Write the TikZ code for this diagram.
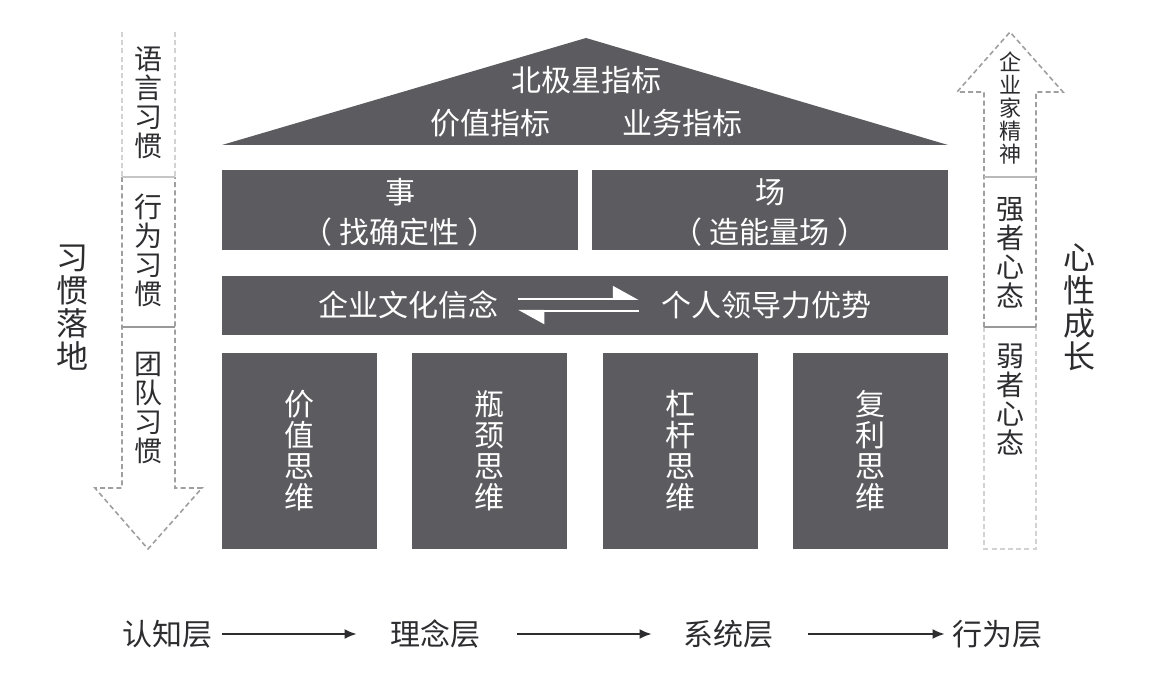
\documentclass[tikz,border=0pt]{standalone}
\usepackage{fontspec}
\setmainfont{Noto Sans CJK SC}
\usetikzlibrary{arrows.meta}
\definecolor{boxgray}{RGB}{92,91,96}
\definecolor{inkgray}{RGB}{45,45,48}
\begin{document}
\begin{tikzpicture}[x=0.5pt, y=-0.5pt,
    wtxt/.style={text=white, inner sep=0pt, align=center, font=\fontsize{15}{15.5}\selectfont},
    btxt/.style={text=inkgray, inner sep=0pt, align=center, font=\fontsize{14}{14.5}\selectfont},
    flow/.style={draw=inkgray, line width=1pt, -{Latex[length=6pt,width=5pt]}},
    dashline/.style={line width=0.8pt, dash pattern=on 2.5pt off 1.6pt}]
    \useasboundingbox (0,0) rectangle (1156,678);

    % house
    \fill[boxgray] (222,145) -- (586,38) -- (948,145) -- cycle;
    \fill[boxgray] (222,170) rectangle (578,250);
    \fill[boxgray] (592,170) rectangle (948,250);
    \fill[boxgray] (222,276) rectangle (948,335);
    \foreach \x in {222,412,603,793} \fill[boxgray] (\x,353) rectangle ++(155,196);

    \node[wtxt] (north) at (586,80) {北极星指标};
    \node[wtxt] (value) at (490,123) {价值指标};
    \node[wtxt] (biz) at (682,123) {业务指标};

    \node[wtxt] (shi) at (400,192) {事};
    \node[wtxt] (shisub) at (400,232) {（\hspace{4pt}找确定性\hspace{4pt}）};
    \node[wtxt] (chang) at (770,192) {场};
    \node[wtxt] (changsub) at (770,232) {（\hspace{4pt}造能量场\hspace{4pt}）};

    \node[wtxt] (culture) at (408,305) {企业文化信念};
    \node[wtxt] (leader) at (766,305) {个人领导力优势};
    \draw[white, line width=1pt, -{Triangle[left, length=12pt, width=13pt]}, shorten <=10pt, shorten >=11pt]
        ([yshift=3pt]culture.east) -- ([yshift=3pt]leader.west);
    \draw[white, line width=1pt, -{Triangle[left, length=12pt, width=13pt]}, shorten <=11pt, shorten >=10pt]
        ([yshift=-3pt]leader.west) -- ([yshift=-3pt]culture.east);

    \foreach \x/\t/\n in {299/{价\\值\\思\\维}/p1, 489/{瓶\\颈\\思\\维}/p2,
                          680/{杠\\杆\\思\\维}/p3, 870/{复\\利\\思\\维}/p4}
        \node[wtxt] (\n) at (\x,451) {\t};

    % left arrow
    \draw[dashline, gray!35] (122,32) -- (122,177);
    \draw[dashline, gray!35] (175,32) -- (175,177);
    \draw[dashline, gray!75] (122,177) -- (122,488) -- (95,488) -- (148,549) -- (202,488) -- (175,488) -- (175,177);
    \draw[gray!45, line width=0.8pt] (122,177) -- (175,177);
    \draw[gray!80, line width=0.8pt] (122,327) -- (175,327);

    \node[btxt] (yuyan) at (148,103) {语\\言\\习\\惯};
    \node[btxt] (xingwei) at (148,250) {行\\为\\习\\惯};
    \node[btxt] (tuandui) at (148,408) {团\\队\\习\\惯};
    \node[btxt, font=\fontsize{16}{16.5}\selectfont] (luodi) at (72,308) {习\\惯\\落\\地};

    % right arrow
    \draw[dashline, gray!75] (984,327) -- (984,92) -- (957,92) -- (1010,32) -- (1063,92) -- (1036,92) -- (1036,327);
    \draw[dashline, gray!35] (984,327) -- (984,549) -- (1036,549) -- (1036,327);
    \draw[gray!55, line width=0.8pt] (984,177) -- (1036,177);
    \draw[gray!80, line width=0.8pt] (984,327) -- (1036,327);

    \node[btxt, font=\fontsize{11}{11.5}\selectfont] (qiye) at (1010,108) {企\\业\\家\\精\\神};
    \node[btxt] (qiangzhe) at (1010,253) {强\\者\\心\\态};
    \node[btxt] (ruozhe) at (1010,400) {弱\\者\\心\\态};
    \node[btxt, font=\fontsize{16}{16.5}\selectfont] (chengzhang) at (1079,307) {心\\性\\成\\长};

    % layers
    \node[btxt, font=\fontsize{15}{15}\selectfont] (renzhi) at (167,634) {认知层};
    \node[btxt, font=\fontsize{15}{15}\selectfont] (linian) at (435,634) {理念层};
    \node[btxt, font=\fontsize{15}{15}\selectfont] (xitong) at (728,634) {系统层};
    \node[btxt, font=\fontsize{15}{15}\selectfont] (hangwei) at (997,634) {行为层};

    \draw[flow, shorten <=5pt, shorten >=16.5pt] (renzhi) -- (linian);
    \draw[flow, shorten <=18.5pt, shorten >=15.5pt] (linian) -- (xitong);
    \draw[flow, shorten <=17.5pt, shorten >=3.5pt] (xitong) -- (hangwei);
\end{tikzpicture}
\end{document}
